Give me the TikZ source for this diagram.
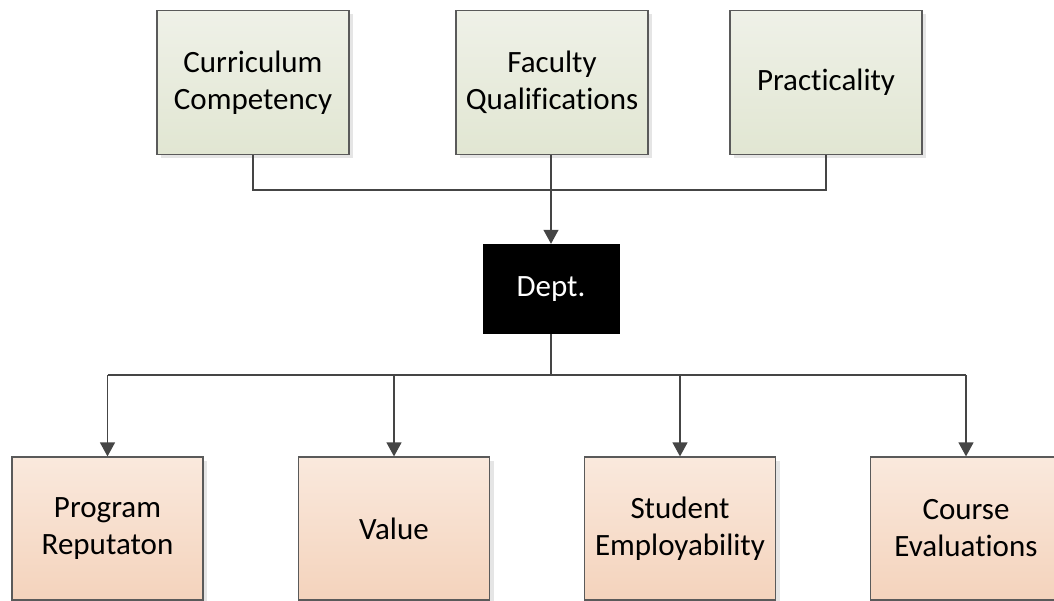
\documentclass[tikz,border=0pt]{standalone}
\usepackage{fontspec}
\setmainfont[Ligatures={NoCommon}]{Carlito}
\usetikzlibrary{positioning, arrows.meta, shadows}
\definecolor{topA}{HTML}{EFF1E8}
\definecolor{topB}{HTML}{E1E6D2}
\definecolor{botA}{HTML}{FAE9DD}
\definecolor{botB}{HTML}{F4D3BC}
\definecolor{edgegray}{HTML}{5A5A5A}
\definecolor{linegray}{HTML}{454545}
\tikzset{
    inputbox/.style={rectangle, draw=edgegray, line width=1.2pt, minimum width=192pt, minimum height=144pt,
        align=center, top color=topA, bottom color=topB,
        drop shadow={shadow xshift=4pt, shadow yshift=-4pt, fill=black!10, opacity=1}},
    outputbox/.style={inputbox, minimum width=191pt, minimum height=143pt, top color=botA, bottom color=botB},
    deptbox/.style={rectangle, fill=black, minimum width=137pt, minimum height=90pt, text=white},
    treeline/.style={draw=linegray, line width=1.2pt},
    treearrow/.style={treeline, -{Triangle[length=14pt,width=15pt]}}
}

\begin{document}
\begin{tikzpicture}[x=1pt, y=-1pt, font=\fontsize{31}{37}\selectfont]
        \useasboundingbox (0,0) rectangle (1054,601);
        \node[inputbox] (CC) at (253,82.5) {Curriculum\\Competency};
        \node[inputbox] (FQ) at (552,82.5) {Faculty\\Qualifications};
        \node[inputbox] (PR) at (826,82.5) {Practicality};
        \node[deptbox] (D) at (551,289) {Dept.};
        \node[outputbox] (PRG) at (107.5,528.5) {Program\\Reputaton};
        \node[outputbox] (V) at (394,528.5) {Value};
        \node[outputbox] (SE) at (680,528.5) {Student\\Employability};
        \node[outputbox] (CE) at (966,528.5) {Course\\Evaluations};
        \coordinate (join) at (551,190);
        \coordinate (split) at (551,375);
        \draw[treeline] (CC) -- (CC |- join) -- (PR |- join) -- (PR);
        \draw[treearrow] (FQ.south -| D) -- (D);
        \draw[treeline] (D) -- (split);
        \draw[treeline] (PRG |- split) -- (CE |- split);
        \foreach \b in {PRG, V, SE, CE}
            \draw[treearrow] (\b |- split) -- (\b);
    \end{tikzpicture}
\end{document}
